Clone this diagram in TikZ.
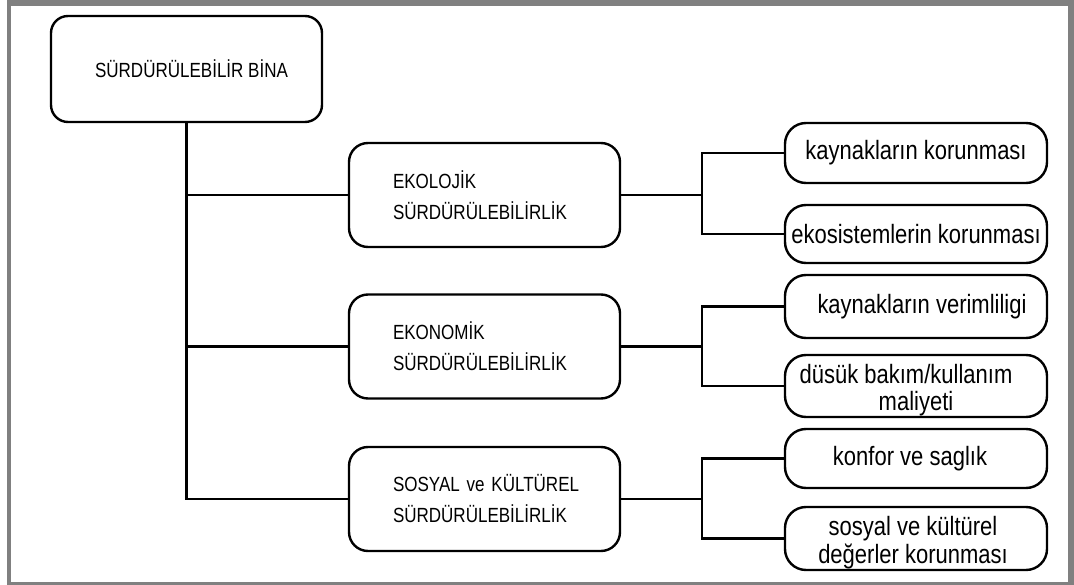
\documentclass[tikz,border=0pt]{standalone}
\usepackage{fontspec}
\setmainfont{Liberation Sans}[FakeStretch=0.83]
% two centred lines, lowered without changing the reported size
\newcommand{\twolines}[3]{\raisebox{-#1}[\height][\depth]{%
  \begin{tabular}{@{}c@{}}#2\\#3\end{tabular}}}
\begin{document}
\begin{tikzpicture}[x=1pt,y=-1pt,
  mainbox/.style={draw, line width=2.4pt, rounded corners=17pt,
    minimum width=271pt, minimum height=106pt, inner sep=0pt,
    font=\fontsize{20.5}{31}\selectfont},
  pillar/.style={draw, line width=2.4pt, rounded corners=19pt,
    minimum width=271pt, minimum height=104pt, text width=183pt,
    inner xsep=44pt, inner ysep=0pt, align=left,
    font=\fontsize{20.5}{31}\selectfont},
  leaf/.style={draw, line width=2.4pt, rounded corners=21pt,
    minimum width=262pt, minimum height=60pt, inner sep=0pt,
    font=\fontsize{26.5}{26.7}\selectfont},
  link/.style={line width=2.2pt}
]
% page and grey frame
\fill[white] (0,0) rectangle (1074,585);
\fill[black!50] (7,0) rectangle (1074,585);
\fill[white] (11,6) rectangle (1068,582);
\useasboundingbox (0,0) rectangle (1074,585);

% root
\node[mainbox] (bina) at (186.5,69) {\hspace*{10pt}SÜRDÜRÜLEBİLİR BİNA};

% three pillars
\node[pillar] (eko) at (484.5,195) {EKOLOJİK\\SÜRDÜRÜLEBİLİRLİK};
\node[pillar] (ekn) at (484.5,346.5) {EKONOMİK\\SÜRDÜRÜLEBİLİRLİK};
\node[pillar] (sos) at (484.5,499) {SOSYAL~ve~KÜLTÜREL\\SÜRDÜRÜLEBİLİRLİK};

% leaves
\node[leaf] (r1) at (916,153) {kaynakların korunması};
\node[leaf, minimum height=58pt] (r2) at (916,234) {ekosistemlerin korunması};
\node[leaf, minimum height=63pt] (r3) at (916,306.5) {\hspace*{12pt}kaynakların verimliligi};
\node[leaf, minimum height=62pt] (r4) at (916,386)
  {\twolines{5.5pt}{düsük bakım/kullanım\hspace*{20pt}}{maliyeti}};
\node[leaf, minimum height=59pt] (r5) at (916,458.5) {konfor ve saglık\hspace*{12pt}};
\node[leaf, minimum height=63pt] (r6) at (916,538.5)
  {\twolines{5.5pt}{sosyal ve kültürel}{değerler korunması}\hspace*{6pt}};

% trunk from the root to each pillar
\draw[link] (bina.south) |- (eko.west);
\draw[link] (bina.south) |- (ekn.west);
\draw[link] (bina.south) |- (sos.west);

% forks from each pillar to its two leaves
\path (eko.east) ++(81,0) coordinate (j1);
\path (ekn.east) ++(81,0) coordinate (j2);
\path (sos.east) ++(81,0) coordinate (j3);
\draw[link] (eko.east) -- (j1);
\draw[link] (ekn.east) -- (j2);
\draw[link] (sos.east) -- (j3);
\draw[link] (r1.west) -| (j1) |- (r2.west);
\draw[link] (r3.west) -| (j2) |- (r4.west);
\draw[link] (r5.west) -| (j3) |- (r6.west);
\end{tikzpicture}
\end{document}
